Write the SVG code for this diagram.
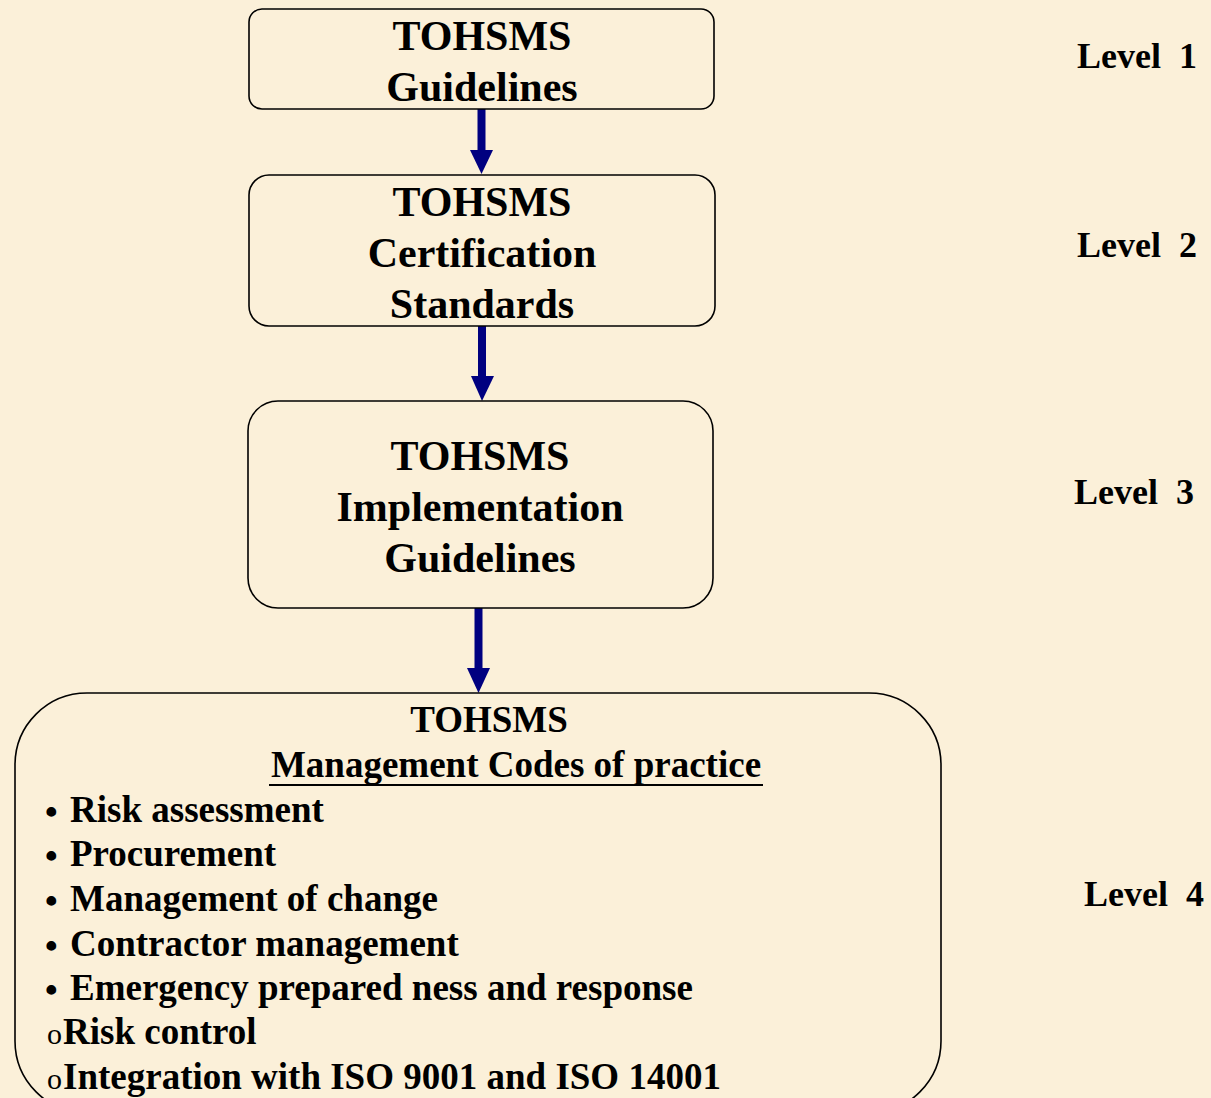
<svg xmlns="http://www.w3.org/2000/svg" width="1211" height="1098" viewBox="0 0 1211 1098">
<defs>
<style>
.box{fill:none;stroke:#000;stroke-width:1.6}
.t{font-family:"Liberation Serif","Times New Roman",serif;font-weight:bold;fill:#000}
.big{font-size:42px;text-anchor:middle}
.mid{font-size:37px}
.lvl{font-size:36px;white-space:pre}
.bul{font-family:"Liberation Serif","Times New Roman",serif;font-weight:bold;font-size:36px}
.circ{font-family:"Liberation Serif","Times New Roman",serif;font-weight:normal;font-size:30px}
.shaft{stroke:#000080;stroke-width:8}
.head{fill:#000080}
</style>
</defs>
<rect width="1211" height="1098" fill="#FBF0D9"/>

<g id="connectors">
<line class="shaft" x1="481.5" y1="109" x2="481.5" y2="152"/>
<polygon class="head" points="470,150 493,150 481.5,174"/>
<line class="shaft" x1="482" y1="326" x2="482" y2="378"/>
<polygon class="head" points="471,376 494,376 482,401"/>
<line class="shaft" x1="478.5" y1="608" x2="478.5" y2="670"/>
<polygon class="head" points="467,668 490,668 478.5,693"/>
</g>

<g id="node1">
<rect class="box" x="249" y="9" width="465" height="100" rx="13"/>
<text class="t big" x="482" y="50">TOHSMS</text>
<text class="t big" x="482" y="101">Guidelines</text>
</g>

<g id="node2">
<rect class="box" x="249" y="175" width="466" height="151" rx="20"/>
<text class="t big" x="482" y="216">TOHSMS</text>
<text class="t big" x="482" y="267">Certification</text>
<text class="t big" x="482" y="318">Standards</text>
</g>

<g id="node3">
<rect class="box" x="248" y="401" width="465" height="207" rx="30"/>
<text class="t big" x="480" y="470">TOHSMS</text>
<text class="t big" x="480" y="521">Implementation</text>
<text class="t big" x="480" y="572">Guidelines</text>
</g>

<g id="node4">
<rect class="box" x="15" y="693" width="926" height="420" rx="72"/>
<text class="t mid" x="489" y="732" text-anchor="middle">TOHSMS</text>
<text class="t mid" x="516" y="777" text-anchor="middle">Management Codes of practice</text>
<line x1="269" y1="785" x2="763" y2="785" stroke="#000" stroke-width="2"/>
<g class="bul">
<text x="45" y="824">•</text>
<text x="45" y="868">•</text>
<text x="45" y="913">•</text>
<text x="45" y="958">•</text>
<text x="45" y="1002">•</text>
</g>
<text class="t mid" x="70" y="822">Risk assessment</text>
<text class="t mid" x="70" y="866">Procurement</text>
<text class="t mid" x="70" y="911">Management of change</text>
<text class="t mid" x="70" y="956">Contractor management</text>
<text class="t mid" x="70" y="1000">Emergency prepared ness and response</text>
<g class="circ">
<text x="47" y="1044">o</text>
<text x="47" y="1089">o</text>
</g>
<text class="t mid" x="63" y="1044">Risk control</text>
<text class="t mid" x="63" y="1089">Integration with ISO 9001 and ISO 14001</text>
</g>

<g id="levels">
<text class="t lvl" x="1077" y="68">Level  1</text>
<text class="t lvl" x="1077" y="257">Level  2</text>
<text class="t lvl" x="1074" y="504">Level  3</text>
<text class="t lvl" x="1084" y="906">Level  4</text>
</g>
</svg>
